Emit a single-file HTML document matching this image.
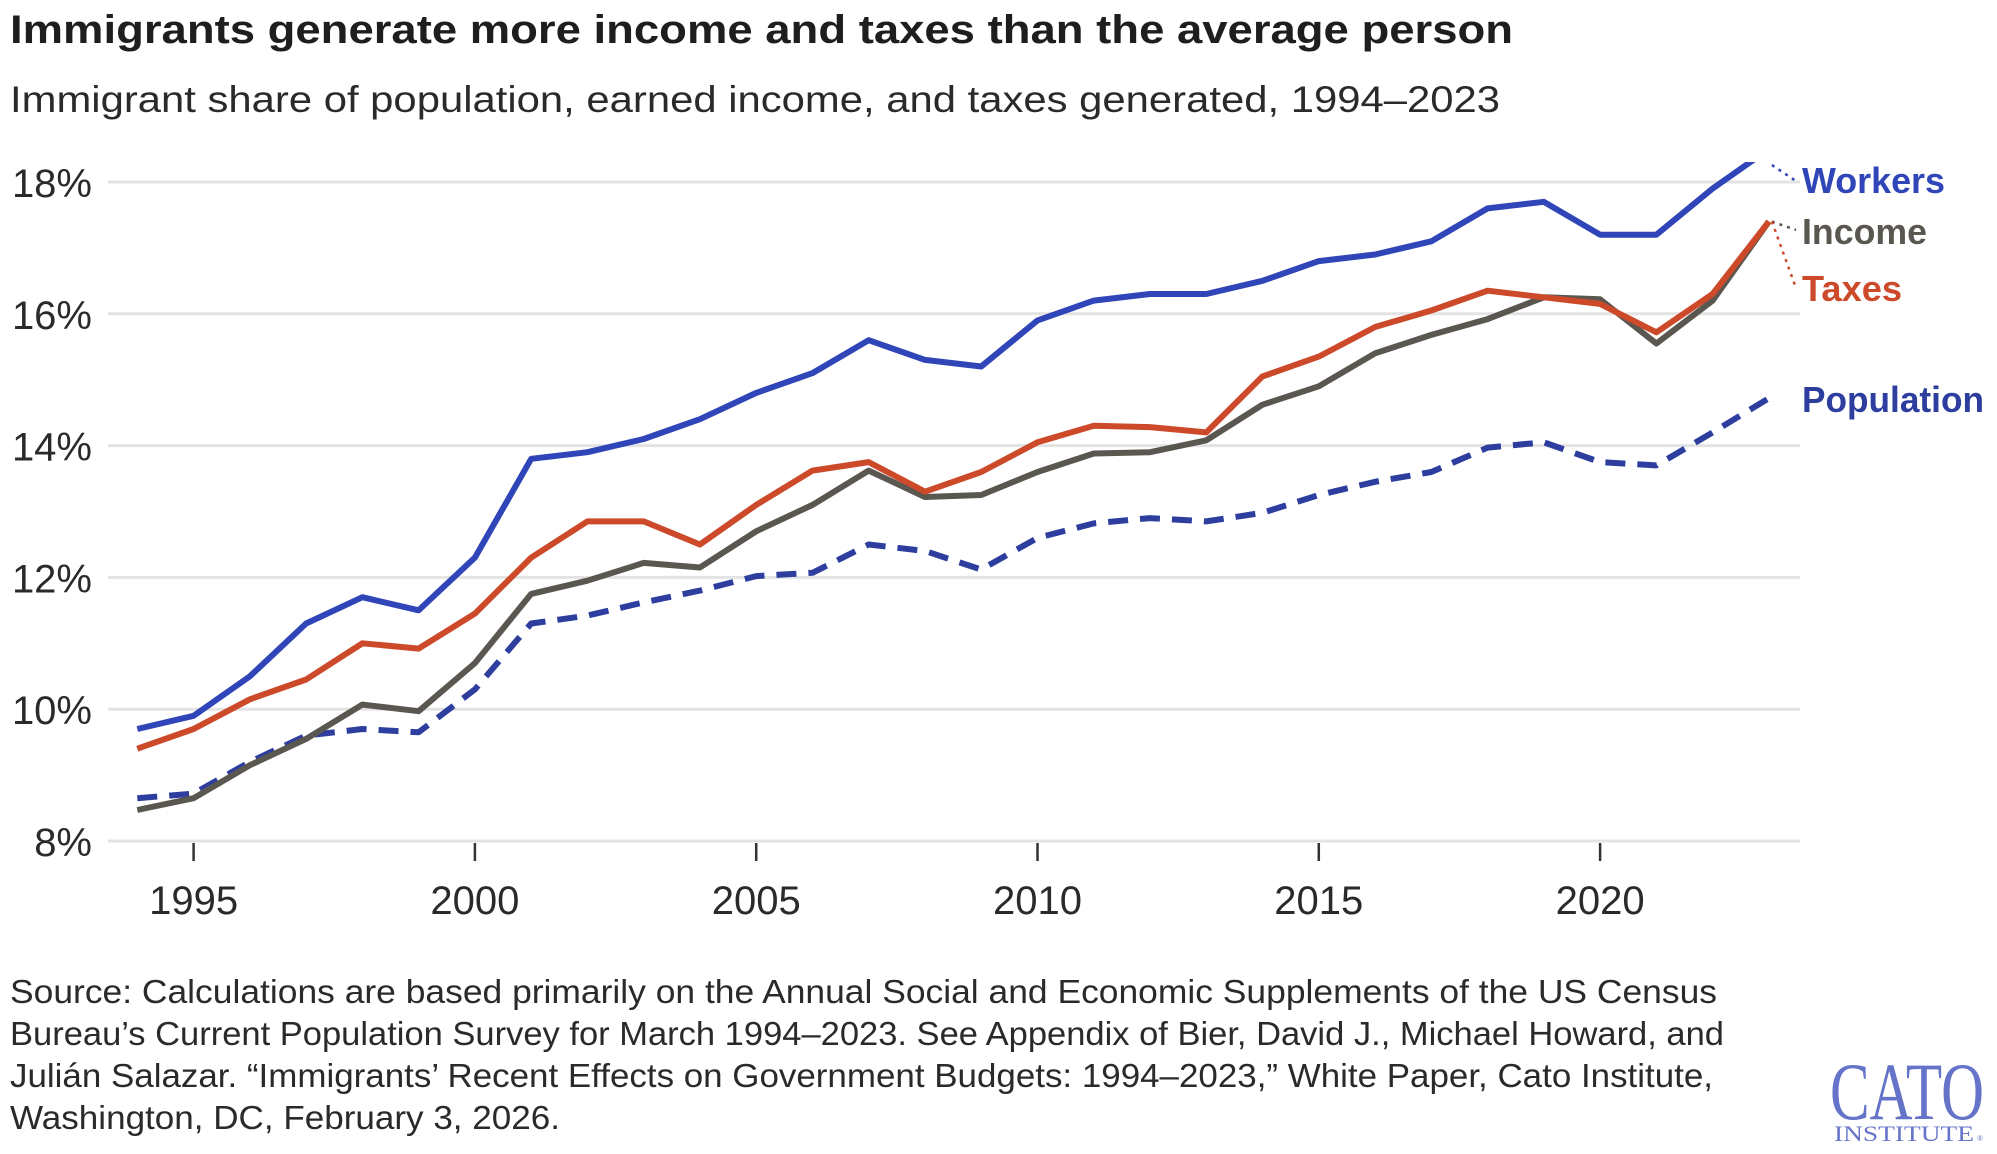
<!DOCTYPE html>
<html><head><meta charset="utf-8"><style>
html,body{margin:0;padding:0;background:#fff;}
svg{display:block;}
text{font-family:"Liberation Sans Narrow","Liberation Sans",sans-serif;}
</style></head><body>
<svg id="chart" width="1997" height="1154" viewBox="0 0 1997 1154" xmlns="http://www.w3.org/2000/svg">
<rect width="1997" height="1154" fill="#fff"/>
<text x="10" y="43" font-size="40" font-weight="bold" fill="#1e1e1e" textLength="1503" lengthAdjust="spacingAndGlyphs">Immigrants generate more income and taxes than the average person</text>
<text x="10" y="112" font-size="37" fill="#2a2a2a" textLength="1490" lengthAdjust="spacingAndGlyphs">Immigrant share of population, earned income, and taxes generated, 1994–2023</text>
<g id="grid"></g>
<g id="yticks"></g>
<g id="xticks"></g>
<defs><clipPath id="plotclip"><rect x="100" y="162" width="1720" height="700"/></clipPath></defs>
<g id="series" clip-path="url(#plotclip)"></g>
<g id="connectors"></g>
<g>
<text x="1802" y="193" font-size="36" font-weight="bold" fill="#2f45b8" textLength="143" lengthAdjust="spacingAndGlyphs">Workers</text>
<text x="1802" y="244" font-size="36" font-weight="bold" fill="#5a5750" textLength="125" lengthAdjust="spacingAndGlyphs">Income</text>
<text x="1802" y="301" font-size="36" font-weight="bold" fill="#cc4a2a" textLength="100" lengthAdjust="spacingAndGlyphs">Taxes</text>
<text x="1802" y="412" font-size="36" font-weight="bold" fill="#2d3e9e" textLength="182" lengthAdjust="spacingAndGlyphs">Population</text>
</g>
<g font-size="33" fill="#2a2a2a">
<text x="10" y="1003" textLength="1707" lengthAdjust="spacingAndGlyphs">Source: Calculations are based primarily on the Annual Social and Economic Supplements of the US Census</text>
<text x="10" y="1045" textLength="1714" lengthAdjust="spacingAndGlyphs">Bureau’s Current Population Survey for March 1994–2023. See Appendix of Bier, David J., Michael Howard, and</text>
<text x="10" y="1087" textLength="1703" lengthAdjust="spacingAndGlyphs">Julián Salazar. “Immigrants’ Recent Effects on Government Budgets: 1994–2023,” White Paper, Cato Institute,</text>
<text x="10" y="1129" textLength="550" lengthAdjust="spacingAndGlyphs">Washington, DC, February 3, 2026.</text>
</g>
<g fill="#6573c8">
<text x="1830" y="1119" font-size="82" textLength="154" lengthAdjust="spacingAndGlyphs" style="font-family:'Liberation Serif',serif">CATO</text>
<text x="1834" y="1141" font-size="22" textLength="140" lengthAdjust="spacingAndGlyphs" style="font-family:'Liberation Serif',serif">INSTITUTE</text>
<text x="1977" y="1141" font-size="8" style="font-family:'Liberation Serif',serif">®</text>
</g>
</svg>
<script>
const years = [1994,1995,1996,1997,1998,1999,2000,2001,2002,2003,2004,2005,2006,2007,2008,2009,2010,2011,2012,2013,2014,2015,2016,2017,2018,2019,2020,2021,2022,2023];
const workers = [9.7,9.9,10.5,11.3,11.7,11.5,12.3,13.8,13.9,14.1,14.4,14.8,15.1,15.6,15.3,15.2,15.9,16.2,16.3,16.3,16.5,16.8,16.9,17.1,17.6,17.7,17.2,17.2,17.9,18.5];
const taxes = [9.4,9.7,10.15,10.45,11.0,10.92,11.45,12.3,12.85,12.85,12.5,13.1,13.62,13.75,13.3,13.6,14.05,14.3,14.28,14.2,15.05,15.35,15.8,16.05,16.35,16.25,16.15,15.72,16.3,17.4];
const income = [8.47,8.65,9.15,9.55,10.07,9.97,10.7,11.75,11.95,12.22,12.15,12.7,13.1,13.62,13.22,13.25,13.6,13.88,13.9,14.08,14.62,14.9,15.4,15.68,15.92,16.25,16.22,15.55,16.2,17.4];
const population = [8.65,8.72,9.2,9.6,9.7,9.65,10.3,11.3,11.42,11.62,11.8,12.02,12.07,12.5,12.4,12.12,12.6,12.82,12.9,12.85,12.98,13.25,13.45,13.6,13.97,14.05,13.75,13.7,14.2,14.72];
const yTicks = [8,10,12,14,16,18];
const yTickLabels = ["8%","10%","12%","14%","16%","18%"];
const xTicks = [1995,2000,2005,2010,2015,2020];
const xTickLabels = ["1995","2000","2005","2010","2015","2020"];

const NS="http://www.w3.org/2000/svg";
const x = yr => 193.6 + (yr-1995)*56.26;
const y = v => 841 - (v-8)*65.9;
function mk(tag, attrs, parent){const e=document.createElementNS(NS,tag);for(const k in attrs)e.setAttribute(k,attrs[k]);parent.appendChild(e);return e;}
const grid=document.getElementById('grid'), yt=document.getElementById('yticks'), xt=document.getElementById('xticks');
yTicks.forEach((t,i)=>{
  const l=mk('line',{x1:108,x2:1800,y1:y(t),y2:y(t),stroke:'#e3e3e3','stroke-width':3},grid);
  
  
  const tx=mk('text',{x:92,y:y(t)+15,'font-size':40,fill:'#2a2a2a','text-anchor':'end'},yt);
  tx.textContent=yTickLabels[i];
  
  
});
xTicks.forEach((t,i)=>{
  const l=mk('line',{x1:x(t),x2:x(t),y1:843,y2:861,stroke:'#333','stroke-width':2.5},xt);
  
  
  const tx=mk('text',{x:x(t),y:914,'font-size':40,fill:'#2a2a2a','text-anchor':'middle'},xt);
  tx.textContent=xTickLabels[i];
  
  
});
const ser=document.getElementById('series');
function line(vals,color,name,dash){
  const d=vals.map((v,i)=>(i?'L':'M')+x(years[i]).toFixed(1)+','+y(v).toFixed(1)).join(' ');
  const p=mk('path',{d:d,fill:'none',stroke:color,'stroke-width':6,'stroke-linejoin':'round'},ser);
  if(dash)p.setAttribute('stroke-dasharray',dash);
  
  
}
line(population,'#2d3e9e','population-line','20 12');
line(income,'#5a5750','income-line');
line(taxes,'#cc4a2a','taxes-line');
line(workers,'#2f45b8','workers-line');
const con=document.getElementById('connectors');
const last=years.length-1, lx=x(years[last]);
[[workers,'#2f45b8',181],[income,'#5a5750',230],[taxes,'#cc4a2a',288]].forEach(([vals,c,ly])=>{
  const l=mk('line',{x1:lx+3,y1:Math.max(y(vals[last]),165),x2:1796,y2:ly,stroke:c,'stroke-width':2.5,'stroke-dasharray':'3 5'},con);
  
  
});
</script>
</body></html>
